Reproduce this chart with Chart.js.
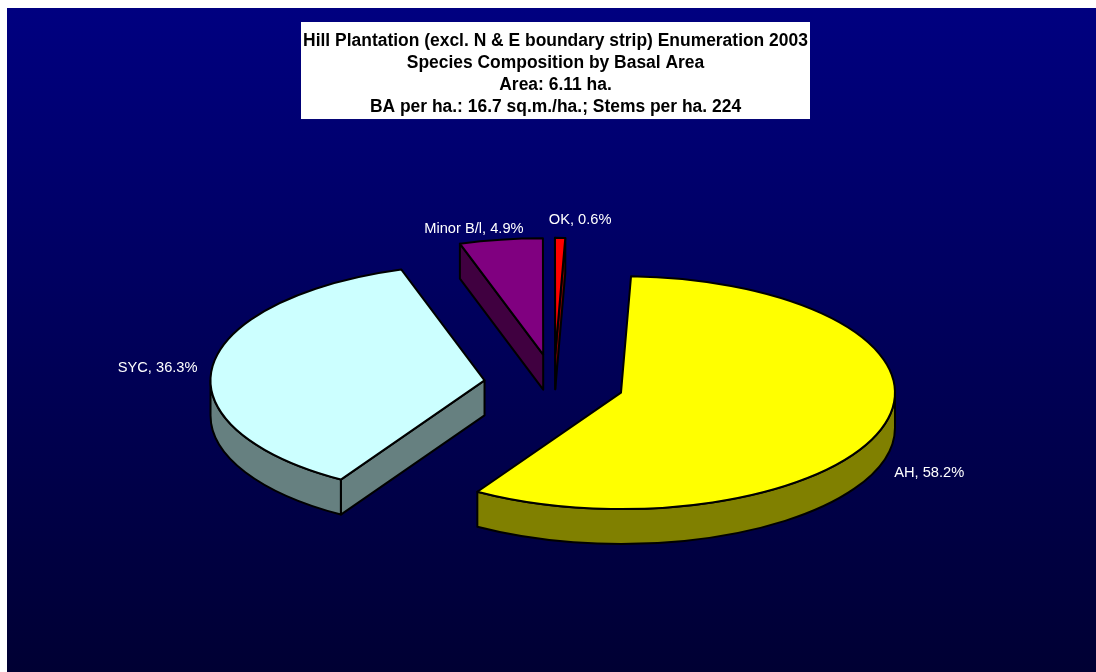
<!DOCTYPE html>
<html>
<head>
<meta charset="utf-8">
<title>Hill Plantation Enumeration 2003</title>
<script src="https://cdn.jsdelivr.net/npm/chart.js@4"></script>
<style>
    html, body { margin: 0; padding: 0; background: #fff; overflow: hidden; }
    canvas { display: block; }
</style>
</head>
<body>
<canvas id="pieChart" width="1096" height="672"></canvas>
<script>
// Species composition by basal area (%)
const categories = ['AH', 'SYC', 'Minor B/l', 'OK'];
const shares = [58.2, 36.3, 4.9, 0.6];
const titleLines = [
    'Hill Plantation (excl. N & E boundary strip) Enumeration 2003',
    'Species Composition by Basal Area',
    'Area: 6.11 ha.',
    'BA per ha.: 16.7 sq.m./ha.; Stems per ha. 224'
];
const topColors = ['#ffff00', '#ccffff', '#800080', '#ff0000'];
const sideColors = ['#808000', '#668080', '#400040', '#800000'];

// Fake 3D look, Chart.js only gives us the flat angles and radius
const view = { scaleX: 1.034, tilt: 0.425, depth: 35, explode: 70, shiftX: -1.5 };
const labelPlace = [
    { dx: 11, dy: 47, align: 'left' },
    { dx: -15, dy: 2, align: 'right' },
    { dx: -27, dy: -11, align: 'center' },
    { dx: 20, dy: -18, align: 'center' }
];

const backgroundPlugin = {
    id: 'background',
    beforeDraw(chart) {
        const ctx = chart.ctx;
        const grad = ctx.createLinearGradient(0, 8, 0, chart.height);
        grad.addColorStop(0, '#000080');
        grad.addColorStop(1, '#000033');
        ctx.save();
        ctx.fillStyle = grad;
        ctx.fillRect(7, 8, chart.width - 7, chart.height - 8);

        // White box behind the title
        const t = chart.titleBlock;
        ctx.fillStyle = '#fff';
        ctx.fillRect(301, t.top, 509, t.height);
        ctx.restore();
    }
};

const pie3dPlugin = {
    id: 'pie3d',
    beforeDatasetDraw(chart) {
        const ctx = chart.ctx;
        const arcs = chart.getDatasetMeta(0).data;

        arcs.forEach((arc, i) => {
            const { x, y, startAngle, endAngle, outerRadius } = arc.getProps(['x', 'y', 'startAngle', 'endAngle', 'outerRadius']);
            const mid = (startAngle + endAngle) / 2;
            const rx = outerRadius * view.scaleX;
            const ry = rx * view.tilt;
            const ax = x + view.shiftX + Math.cos(mid) * view.explode;
            const ay = y + Math.sin(mid) * view.explode * view.tilt;
            const d = view.depth;

            ctx.save();
            ctx.lineWidth = 2;
            ctx.lineJoin = 'round';
            ctx.strokeStyle = '#000';
            ctx.fillStyle = sideColors[i];

            // Cut faces, only the ones turned to the viewer
            [[startAngle, Math.cos(startAngle) < 0], [endAngle, Math.cos(endAngle) > 0]].forEach(([a, visible]) => {
                if (!visible) return;
                const px = ax + Math.cos(a) * rx;
                const py = ay + Math.sin(a) * ry;
                ctx.beginPath();
                ctx.moveTo(ax, ay);
                ctx.lineTo(px, py);
                ctx.lineTo(px, py + d);
                ctx.lineTo(ax, ay + d);
                ctx.closePath();
                ctx.fill();
                ctx.stroke();
            });

            // Outer rim, front half of the ellipse only
            for (let k = -1; k <= 1; k++) {
                const lo = Math.max(startAngle, 2 * Math.PI * k);
                const hi = Math.min(endAngle, Math.PI + 2 * Math.PI * k);
                if (hi <= lo) continue;
                ctx.beginPath();
                ctx.ellipse(ax, ay, rx, ry, 0, lo, hi);
                ctx.ellipse(ax, ay + d, rx, ry, 0, hi, lo, true);
                ctx.closePath();
                ctx.fill();
                ctx.stroke();
            }

            // Top of the slice
            ctx.fillStyle = topColors[i];
            ctx.beginPath();
            ctx.moveTo(ax, ay);
            ctx.ellipse(ax, ay, rx, ry, 0, startAngle, endAngle);
            ctx.closePath();
            ctx.fill();
            ctx.stroke();

            // Data label
            const place = labelPlace[i];
            ctx.fillStyle = '#fff';
            ctx.font = '14.67px "Liberation Sans", Arial, sans-serif';
            ctx.textAlign = place.align;
            ctx.textBaseline = 'middle';
            ctx.fillText(
                `${categories[i]}, ${shares[i].toFixed(1)}%`,
                ax + Math.cos(mid) * rx + place.dx,
                ay + Math.sin(mid) * ry + place.dy
            );
            ctx.restore();
        });

        // Slices are done here, skip the flat default drawing
        return false;
    }
};

new Chart(document.getElementById('pieChart').getContext('2d'), {
    type: 'pie',
    data: {
        labels: categories,
        datasets: [{
            data: shares,
            backgroundColor: topColors,
            borderWidth: 0
        }]
    },
    options: {
        responsive: false,
        animation: false,
        events: [],
        rotation: 2.1,
        layout: { padding: { top: 22, bottom: 23, left: 15, right: 0 } },
        plugins: {
            legend: { display: false },
            tooltip: { enabled: false },
            title: {
                display: true,
                text: titleLines,
                fullSize: false,
                color: '#000',
                font: { family: '"Liberation Sans", Arial, sans-serif', size: 17.45, weight: 'bold', lineHeight: 1.261 },
                padding: { top: 8, bottom: 1 }
            }
        }
    },
    plugins: [backgroundPlugin, pie3dPlugin]
});
</script>
</body>
</html>
